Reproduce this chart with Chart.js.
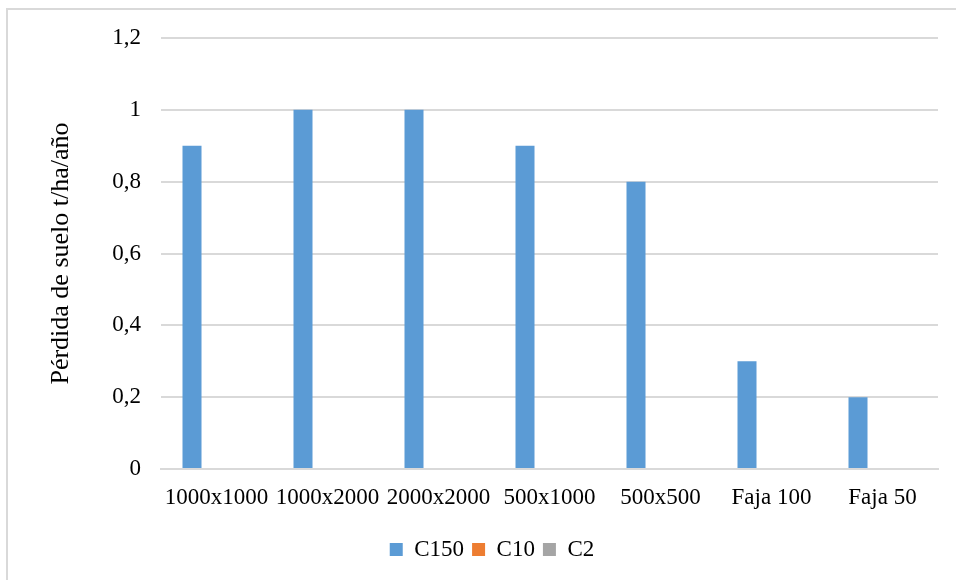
<!DOCTYPE html>
<html>
<head>
<meta charset="utf-8">
<script src="https://cdn.jsdelivr.net/npm/chart.js@4.4.1/dist/chart.umd.min.js"></script>
<style>
  html, body { margin: 0; padding: 0; background: #fff; }
  #wrap { position: relative; width: 956px; height: 580px; overflow: hidden; }
  #frame { position: absolute; left: 6px; top: 8px; width: 1000px; height: 700px; border: 2px solid #d9d9d9; box-sizing: border-box; }
  canvas { position: absolute; left: 0; top: 0; }
</style>
</head>
<body>
<div id="wrap">
  <div id="frame"></div>
  <canvas id="chart" width="956" height="580"></canvas>
</div>
<script>
const categories = ['1000x1000', '1000x2000', '2000x2000', '500x1000', '500x500', 'Faja 100', 'Faja 50'];
const c150 = [0.9, 1, 1, 0.9, 0.8, 0.3, 0.2];
const c10 = [0, 0, 0, 0, 0, 0, 0];
const c2 = [0, 0, 0, 0, 0, 0, 0];
const yTitle = 'Pérdida de suelo t/ha/año';

const fontFamily = '"Liberation Serif", "Times New Roman", serif';

const data = {
	labels: categories,
	datasets: [
		{ label: 'C150', data: c150, backgroundColor: '#5b9bd5' },
		{ label: 'C10', data: c10, backgroundColor: '#ed7d31' },
		{ label: 'C2', data: c2, backgroundColor: '#a5a5a5' }
	]
};

const config = {
	type: 'bar',
	data,
	options: {
		responsive: false,
		animation: false,
		devicePixelRatio: 1,
		layout: { padding: { left: 46, right: 18, top: 38, bottom: 9 } },
		datasets: { bar: { categoryPercentage: 0.662, barPercentage: 0.776 } },
		plugins: {
			tooltip: { enabled: false },
			legend: {
				position: 'bottom',
				labels: {
					color: '#000',
					boxWidth: 13,
					boxHeight: 13,
					padding: 8,
					font: { family: fontFamily, size: 23 }
				}
			}
		},
		scales: {
			x: {
				grid: { display: false, drawTicks: false },
				border: { display: true, color: '#d9d9d9', width: 2 },
				ticks: { color: '#000', padding: 15, maxRotation: 0, autoSkip: false, font: { family: fontFamily, size: 23 } },
				afterFit: scale => { scale.height = 61 }
			},
			y: {
				min: 0,
				max: 1.2,
				grid: { color: '#d9d9d9', lineWidth: 2, drawTicks: false },
				border: { display: false },
				ticks: {
					stepSize: 0.2,
					color: '#000',
					padding: 20,
					font: { family: fontFamily, size: 23 },
					callback: v => String(Math.round(v * 10) / 10).replace('.', ',')
				},
				title: {
					display: true,
					text: yTitle,
					color: '#000',
					padding: { top: 0, bottom: 0 },
					font: { family: fontFamily, size: 26 }
				},
				afterFit: scale => { scale.width = 115 }
			}
		}
	}
};

new Chart(document.getElementById('chart'), config);
</script>
</body>
</html>
